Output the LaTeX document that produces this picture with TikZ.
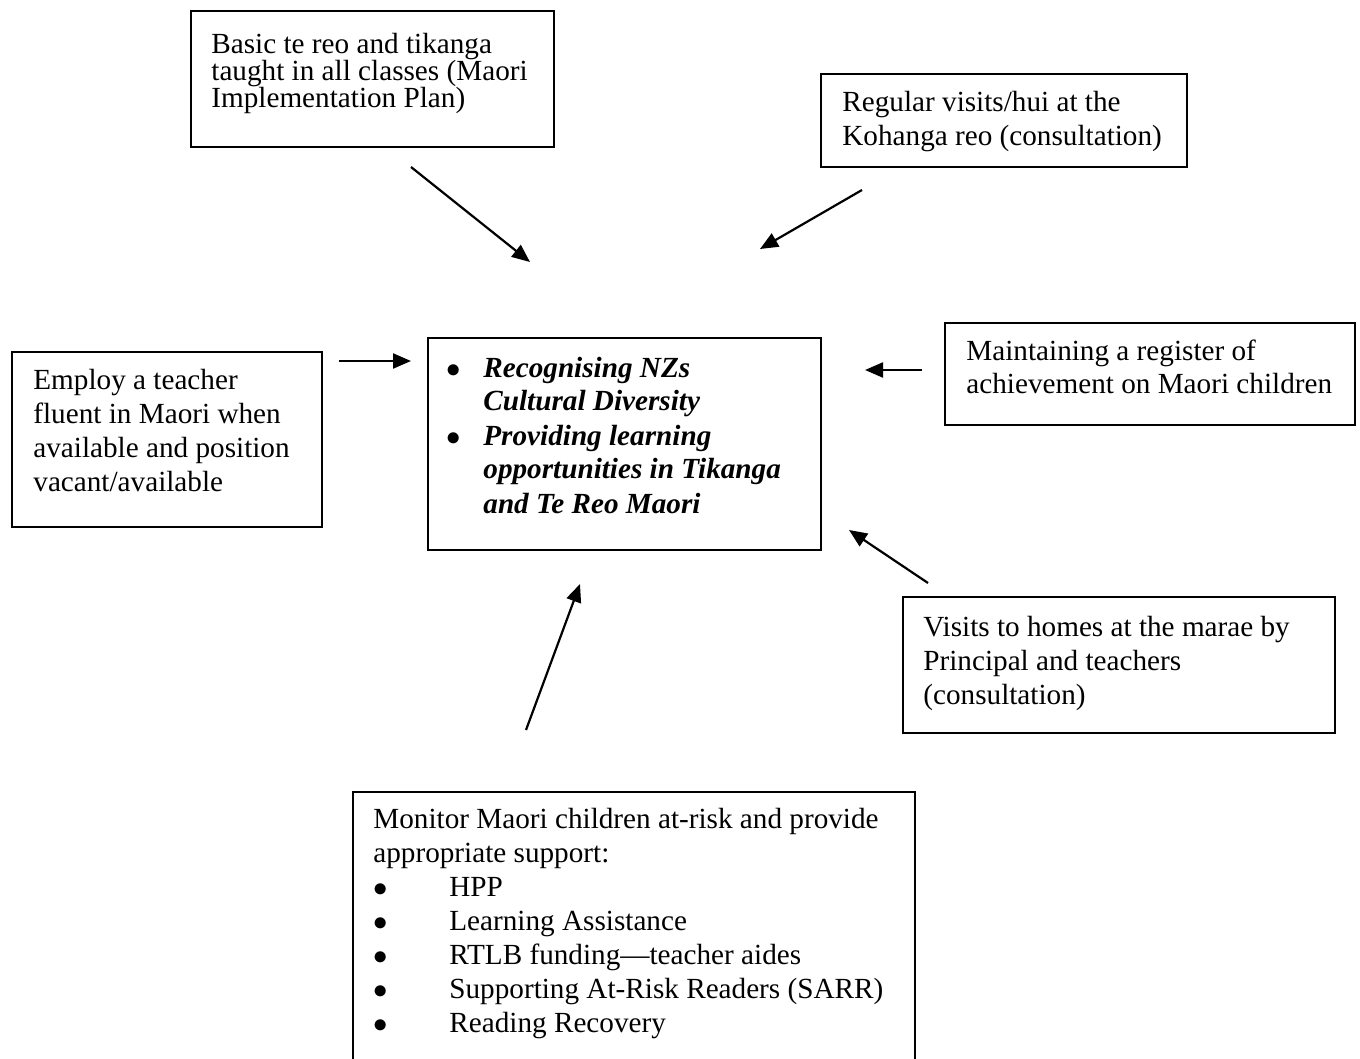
\documentclass[tikz,border=0pt]{standalone}
\usepackage{fontspec}
\setmainfont{Liberation Serif}
\usetikzlibrary{arrows.meta,fit}
\newcommand{\bul}{\makebox[0pt][l]{$\bullet$}}
\begin{document}
\begin{tikzpicture}[x=0.5pt,y=-0.5pt,
  box/.style={draw=black,line width=1pt,inner sep=0pt,fill=none},
  txt/.style={anchor=base west,inner sep=0pt,font=\fontsize{14.6}{17}\selectfont},
  arr/.style={line width=1.1pt,-{Triangle[length=9pt,width=7.5pt]}}]
\useasboundingbox[fill=white] (0,0) rectangle (1360,1059);
% boxes
\node[box,fit={(191,11) (554,147)}] (b1) {};
\node[box,fit={(821,74) (1187,167)}] (b2) {};
\node[box,fit={(12,352) (322,527)}] (b3) {};
\node[box,fit={(428,338) (821,550)}] (bc) {};
\node[box,fit={(945,323) (1355,425)}] (b4) {};
\node[box,fit={(903,597) (1335,733)}] (b5) {};
\node[box,fit={(353,792) (915,1070)}] (b6) {};
% texts
\node[txt] (t1) at (211,54) {\vtop{\baselineskip=13.5pt\lineskiplimit=-100pt
  \hbox{Basic te reo and tikanga}\hbox{taught in all classes (Maori}\hbox{Implementation Plan)}}};
\node[txt] (t2) at (842,112) {\begin{tabular}[t]{@{}l@{}}Regular visits/hui at the\\Kohanga reo (consultation)\end{tabular}};
\node[txt] (t3) at (33,389) {\begin{tabular}[t]{@{}l@{}}Employ a teacher\\fluent in Maori when\\available and position\\vacant/available\end{tabular}};
\node[txt] (t4) at (966,360) {\begin{tabular}[t]{@{}l@{}}Maintaining a register of\\achievement on Maori children\end{tabular}};
\node[txt] (t5) at (923,636) {\begin{tabular}[t]{@{}l@{}}Visits to homes at the marae by\\Principal and teachers\\(consultation)\end{tabular}};
\node[txt,font=\fontsize{14.6}{17}\selectfont\bfseries\itshape] (tc) at (446,377) {\begin{tabular}[t]{@{}p{18.5pt}@{}l@{}}
  \bul & Recognising NZs\\ & Cultural Diversity\\
  \bul & Providing learning\\ & opportunities in Tikanga\\ & and Te Reo Maori\end{tabular}};
\node[txt] (t6) at (373,828) {\begin{tabular}[t]{@{}p{38pt}@{}l@{}}
  \multicolumn{2}{@{}l@{}}{Monitor Maori children at-risk and provide}\\
  \multicolumn{2}{@{}l@{}}{appropriate support:}\\
  \bul & HPP\\
  \bul & Learning Assistance\\
  \bul & RTLB funding---teacher aides\\
  \bul & Supporting At-Risk Readers (SARR)\\
  \bul & Reading Recovery\end{tabular}};
% arrow ends
\coordinate (a1s) at (411,167); \coordinate (a1e) at (530,262);
\coordinate (a2s) at (862,190); \coordinate (a2e) at (760,249);
\coordinate (a3s) at (339,361); \coordinate (a3e) at (411,361);
\coordinate (a4s) at (922,370); \coordinate (a4e) at (865,370);
\coordinate (a5s) at (928,583); \coordinate (a5e) at (849,530);
\coordinate (a6s) at (526,730); \coordinate (a6e) at (580,584);
\draw[arr] (a1s) -- (a1e);
\draw[arr] (a2s) -- (a2e);
\draw[arr] (a3s) -- (a3e);
\draw[arr] (a4s) -- (a4e);
\draw[arr] (a5s) -- (a5e);
\draw[arr] (a6s) -- (a6e);
\end{tikzpicture}
\end{document}
